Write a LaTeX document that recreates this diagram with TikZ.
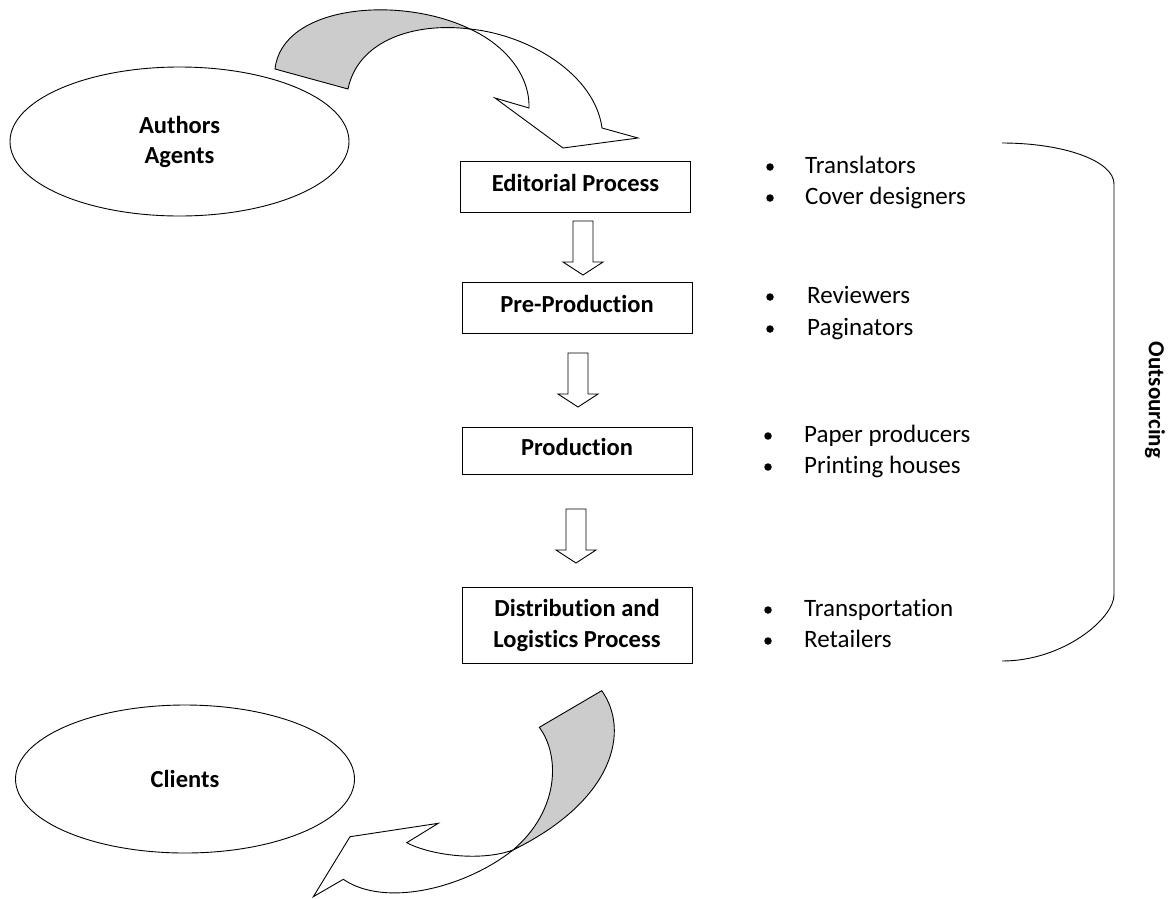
\documentclass[tikz,border=0pt]{standalone}
\usepackage{fontspec}
\setmainfont{Carlito}[Ligatures=NoCommon]
\usetikzlibrary{shapes.geometric}
\begin{document}
\begin{tikzpicture}[x=1pt,y=-1pt,
  every node/.style={font=\fontsize{25}{30}\selectfont},
  box/.style={draw, line width=0.9pt, minimum width=230pt, inner sep=0pt,
    font=\fontsize{24.5}{31}\selectfont\bfseries, align=center},
  onel/.style={text height=15pt, text depth=5pt},
  oval/.style={draw, ellipse, line width=0.9pt, minimum width=339pt, inner sep=0pt,
    align=center, font=\fontsize{24.5}{30}\selectfont\bfseries},
  item/.style={anchor=base west, inner sep=0pt},
  dot/.style={circle, fill=black, inner sep=0pt, minimum size=7.5pt},
  blockarrow/.style={draw, fill=white, line width=0.9pt, line join=miter},
  ribbon/.style={draw, line width=0.9pt, line join=miter},
  blockdown/.pic={\draw[blockarrow] (-10,0) -- (10,0) -- (10,41) -- (20,41) -- (0,54) -- (-20,41) -- (-10,41) -- cycle;}
]
\useasboundingbox (0,0) rectangle (1175,898);

% ovals
\node[oval, minimum height=149pt] (auth) at (179.5,141.5) {Authors\\Agents};
\node[oval, minimum height=148pt] (cli) at (185,779) {Clients};

% process boxes
\node[box, onel, minimum height=51pt] (edit) at (575.5,186.5) {Editorial Process};
\node[box, onel, minimum height=51pt] (pre) at (577,307.5) {Pre-Production};
\node[box, onel, minimum height=47pt] (prod) at (577,450.5) {Production};
\node[box, minimum height=76pt] (dist) at (577,625) {Distribution and\\Logistics Process};

% block arrows between boxes
\pic at (583,221) {blockdown};
\pic at (578,353) {blockdown};
\pic at (576,509) {blockdown};

% bullet lists
\node[dot] (d1) at (770,167) {};
\node[item] (t1) at (805,173) {Translators};
\node[dot] (d2) at (770,198) {};
\node[item] (t2) at (805,204) {Cover designers};
\node[dot] (d3) at (770,297) {};
\node[item] (t3) at (807,303) {Reviewers};
\node[dot] (d4) at (770,329) {};
\node[item] (t4) at (807,335) {Paginators};
\node[dot] (d5) at (768,436) {};
\node[item] (t5) at (804,442) {Paper producers};
\node[dot] (d6) at (768,467) {};
\node[item] (t6) at (804,473) {Printing houses};
\node[dot] (d7) at (768,610) {};
\node[item] (t7) at (804,616) {Transportation};
\node[dot] (d8) at (768,641) {};
\node[item] (t8) at (804,647) {Retailers};

% brace
\coordinate (bt) at (1002,143);
\coordinate (bb) at (1002,661);
\draw[line width=0.9pt] (bt) .. controls (1064,143) and (1114,161) .. (1114,184)
  -- (1114,595) .. controls (1114,618) and (1064,661) .. (bb);
\node[rotate=-90, font=\fontsize{23}{30}\selectfont\bfseries] (out) at (1155,400) {Outsourcing};

% top curved arrow
\draw[ribbon, fill=gray!40] (275,69) .. controls (282,5) and (400,-5) .. (470,29)
  .. controls (415,22) and (358,40) .. (348,89) -- cycle;
\draw[ribbon, fill=white] (470,29) .. controls (530,35) and (595,75) .. (602,128)
  -- (638,138) -- (563,148) -- (495,98) -- (529,108)
  .. controls (530,75) and (505,45) .. (470,29) -- cycle;

% bottom curved arrow
\draw[ribbon, fill=gray!40] (601.7,690.7) .. controls (630,730) and (615,800) .. (513,850)
  .. controls (560,810) and (560,755) .. (539.3,727.3) -- cycle;
\draw[ribbon, fill=white] (513,850) .. controls (465,888) and (385,908) .. (343.3,879.3)
  -- (313.3,896.7) -- (350,836.7) -- (438.3,823.3) -- (406.7,842.7)
  .. controls (430,855) and (480,862) .. (513,850) -- cycle;
\end{tikzpicture}
\end{document}
